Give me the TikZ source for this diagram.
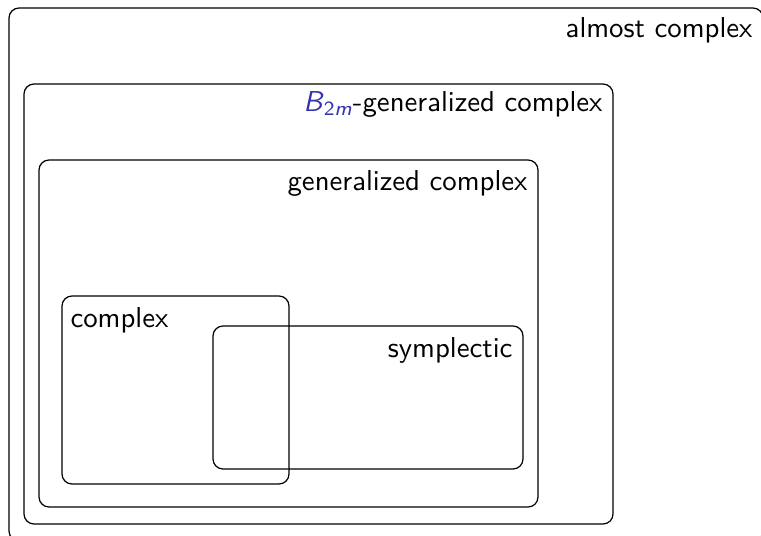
\documentclass[tikz,border=0pt]{standalone}
\usepackage{fontspec}
\definecolor{structblue}{rgb}{0.2,0.2,0.7}
\tikzset{
  setbox/.style={draw=black, line width=0.45pt, rounded corners=3.7pt},
  lbl/.style={font=\fontsize{10.65}{12}\sffamily, inner sep=0pt},
}
\begin{document}
\begin{tikzpicture}[x=0.37pt, y=-0.37pt]
\useasboundingbox (0,0) rectangle (761,535);
\draw[setbox] (9,8) rectangle (763,541);
\draw[setbox] (24,84) rectangle (613,524);
\draw[setbox] (39,160) rectangle (538,507);
\draw[setbox] (62,296) rectangle (289,484);
\draw[setbox] (213,326) rectangle (523,469);
\node[lbl, anchor=base east] (almost) at (753,37) {almost complex};
\node[lbl, anchor=base east] (btwo) at (603,111) {\textcolor{structblue}{\textsl{B}\textsubscript{2\textsl{m}}}-generalized complex};
\node[lbl, anchor=base east] (gen) at (528,190) {generalized complex};
\node[lbl, anchor=base west] (cx) at (70,327) {complex};
\node[lbl, anchor=base east] (symp) at (513,357) {symplectic};
\end{tikzpicture}
\end{document}
